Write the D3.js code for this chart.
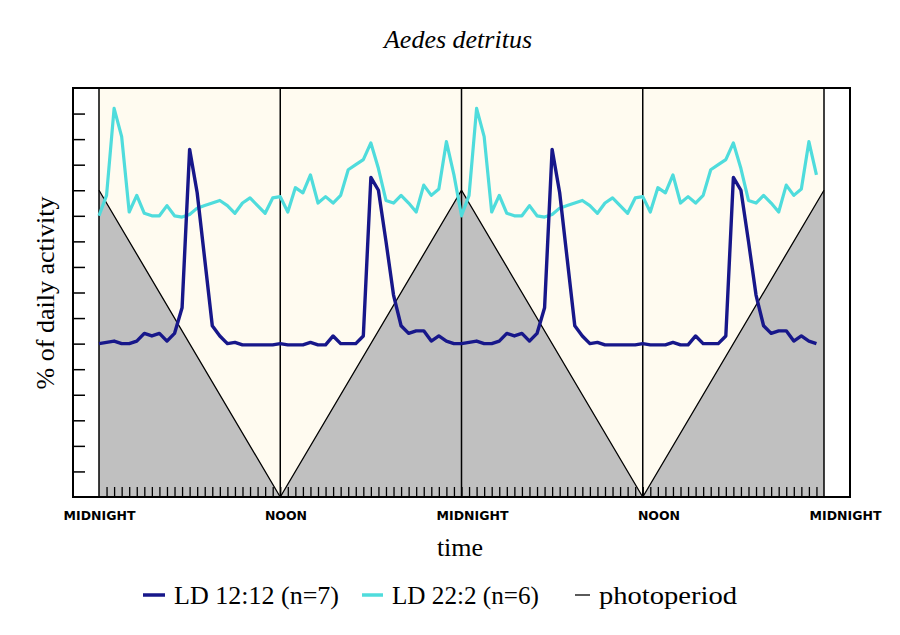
<!DOCTYPE html>
<html>
<head>
<meta charset="utf-8">
<script src="https://cdn.jsdelivr.net/npm/d3@7"></script>
<style>
    body { margin: 0; background: #fff; }
    svg { display: block; }
</style>
</head>
<body>
<svg id="chart" width="900" height="635"></svg>
<script>
// one day, half-hour bins (double plotted below)
const hours = d3.range(0, 24, 0.5)

const ld1212 = [
    6.0, 6.05, 6.1, 6.0, 6.0, 6.1, 6.4, 6.3, 6.4, 6.1, 6.4, 7.4,
    13.6, 11.9, 9.3, 6.7, 6.3, 6.0, 6.05, 5.95, 5.95, 5.95, 5.95, 5.95,
    6.0, 5.95, 5.95, 5.95, 6.05, 5.95, 5.95, 6.3, 6.0, 6.0, 6.0, 6.3,
    12.5, 12.0, 10.0, 7.9, 6.7, 6.4, 6.5, 6.5, 6.1, 6.3, 6.1, 6.0
]

const ld222 = [
    11.0, 11.8, 15.2, 14.1, 11.15, 11.8, 11.1, 11.0, 11.0, 11.4, 11.0, 10.95,
    11.05, 11.3, 11.4, 11.5, 11.6, 11.4, 11.1, 11.5, 11.7, 11.4, 11.1, 11.7,
    11.75, 11.15, 12.1, 11.9, 12.6, 11.5, 11.75, 11.5, 11.8, 12.8, 13.0, 13.2,
    13.85, 12.85, 11.6, 11.5, 11.8, 11.5, 11.15, 12.2, 11.8, 12.05, 13.9, 12.6
]

const photoHours = [0, 12, 24, 36, 48]
const photoperiod = [12, 0, 12, 0, 12]

const gridHours = [0, 12, 24, 36, 48]
const gridLabels = ['MIDNIGHT', 'NOON', 'MIDNIGHT', 'NOON', 'MIDNIGHT']
const yTicks = d3.range(1, 16)

const legendItems = [
    { label: 'LD 12:12 (n=7)', color: '#17178a', width: 3.5 },
    { label: 'LD 22:2 (n=6)', color: '#4fdcdc', width: 3.5 },
    { label: 'photoperiod', color: '#000', width: 1.3 }
]

class ActivityChart {
    constructor(svgId){
        this.svg = d3.select(svgId)
        this.x = d3.scaleLinear().domain([0, 48]).range([99, 824])
        this.y = d3.scaleLinear().domain([0, 16]).range([497, 88])
        // the hour labels sit on a slightly wider spacing than the grid
        this.labelX = d3.scaleLinear().domain([0, 48]).range([99, 845])
        this.pad = 26
        this.font = 'Liberation Serif, serif'
        this.draw()
    }

    series(values){
        // repeat the day so the chart shows 48 hours
        let pts = []
        for(let day = 0; day < 2; day++){
            hours.forEach((h, i) => pts.push({ h: h + 24 * day, v: values[i] }))
        }
        return pts
    }

    draw(){
        let x = this.x, y = this.y, svg = this.svg

        svg.append('text')
            .attr('x', 458).attr('y', 48)
            .attr('text-anchor', 'middle')
            .style('font-family', this.font)
            .style('font-style', 'italic')
            .style('font-size', '26px')
            .text('Aedes detritus')

        svg.append('rect')
            .attr('x', x(0)).attr('y', y(16))
            .attr('width', x(48) - x(0)).attr('height', y(0) - y(16))
            .attr('fill', '#fffbf0')

        let photo = photoHours.map((h, i) => ({ h: h, v: photoperiod[i] }))

        svg.append('path')
            .datum(photo)
            .attr('fill', '#c0c0c0')
            .attr('d', d3.area().x(d => x(d.h)).y0(y(0)).y1(d => y(d.v)))

        svg.append('path')
            .datum(photo)
            .attr('fill', 'none')
            .attr('stroke', '#000')
            .attr('stroke-width', 1.3)
            .attr('d', d3.line().x(d => x(d.h)).y(d => y(d.v)))

        svg.selectAll('.grid')
            .data(gridHours)
            .join('line')
            .attr('class', 'grid')
            .attr('x1', d => x(d)).attr('x2', d => x(d))
            .attr('y1', y(16)).attr('y2', y(0))
            .attr('stroke', '#000')
            .attr('stroke-width', 1.5)

        // half-hour ticks along the bottom
        svg.append('g')
            .attr('transform', `translate(0,${y(0)})`)
            .call(d3.axisTop(x).tickValues(d3.range(0.5, 48, 0.5)).tickSize(10).tickFormat(''))
            .call(g => g.select('.domain').remove())
            .selectAll('line').attr('stroke-width', 1.3)

        svg.append('g')
            .attr('transform', `translate(${x(0) - this.pad},0)`)
            .call(d3.axisRight(y).tickValues(yTicks).tickSize(12).tickFormat(''))
            .call(g => g.select('.domain').remove())
            .selectAll('line').attr('stroke-width', 1.5)

        let line = d3.line().x(d => x(d.h)).y(d => y(d.v))

        svg.append('path')
            .datum(this.series(ld222))
            .attr('fill', 'none')
            .attr('stroke', legendItems[1].color)
            .attr('stroke-width', 3.2)
            .attr('stroke-linejoin', 'round')
            .attr('d', line)

        svg.append('path')
            .datum(this.series(ld1212))
            .attr('fill', 'none')
            .attr('stroke', legendItems[0].color)
            .attr('stroke-width', 3.4)
            .attr('stroke-linejoin', 'round')
            .attr('d', line)

        svg.append('rect')
            .attr('x', x(0) - this.pad).attr('y', y(16))
            .attr('width', x(48) - x(0) + 2 * this.pad).attr('height', y(0) - y(16))
            .attr('fill', 'none')
            .attr('stroke', '#000')
            .attr('stroke-width', 2)

        svg.append('g')
            .attr('transform', `translate(0,${y(0)})`)
            .call(d3.axisBottom(this.labelX).tickValues(gridHours).tickSize(0).tickPadding(14)
                .tickFormat((d, i) => gridLabels[i]))
            .call(g => g.select('.domain').remove())
            .selectAll('text')
            .attr('fill', '#000')
            .style('font-family', 'DejaVu Sans, sans-serif')
            .style('font-weight', 'bold')
            .style('font-size', '12.5px')

        svg.append('text')
            .attr('x', 460).attr('y', 556)
            .attr('text-anchor', 'middle')
            .style('font-family', this.font)
            .style('font-size', '26px')
            .text('time')

        svg.append('text')
            .attr('transform', 'translate(54,293) rotate(-90)')
            .attr('text-anchor', 'middle')
            .style('font-family', this.font)
            .style('font-size', '26px')
            .text('% of daily activity')

        this.drawLegend()
    }

    drawLegend(){
        let starts = [143, 362, 575]
        let dashLen = [22, 21, 15]
        let textLen = [165, 147, 138]

        let items = this.svg.selectAll('.legend')
            .data(legendItems)
            .join('g')
            .attr('class', 'legend')
            .attr('transform', (d, i) => `translate(${starts[i]},595)`)

        items.append('line')
            .attr('x1', 0).attr('x2', (d, i) => dashLen[i])
            .attr('y1', 0).attr('y2', 0)
            .attr('stroke', d => d.color)
            .attr('stroke-width', d => d.width)

        items.append('text')
            .attr('x', (d, i) => dashLen[i] + 9)
            .attr('y', 9)
            .attr('textLength', (d, i) => textLen[i])
            .attr('lengthAdjust', 'spacingAndGlyphs')
            .style('font-family', this.font)
            .style('font-size', '26px')
            .text(d => d.label)
    }
}

new ActivityChart('#chart')
</script>
</body>
</html>
